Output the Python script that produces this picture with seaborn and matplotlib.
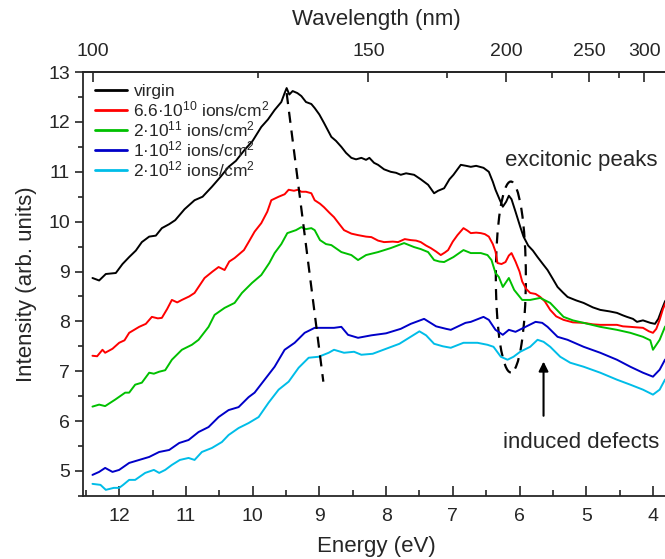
import numpy as np
import pandas as pd
import seaborn as sns
import matplotlib.pyplot as plt
from matplotlib.patches import Ellipse
from matplotlib.ticker import MultipleLocator, FixedLocator

# ---- data (energy in eV, intensity in arb. units) ----
e_virgin = [12.40, 12.30, 12.20, 12.05, 11.95, 11.85, 11.75, 11.66, 11.55, 11.45,
            11.36, 11.25, 11.16, 11.02, 10.87, 10.75, 10.61, 10.48, 10.36, 10.25,
            10.12, 10.00, 9.87, 9.77, 9.67, 9.57, 9.52, 9.49, 9.45, 9.40,
            9.33, 9.27, 9.20, 9.12, 9.07, 9.00, 8.93, 8.82, 8.75, 8.67,
            8.60, 8.52, 8.45, 8.37, 8.30, 8.25, 8.18, 8.12, 8.03, 7.93,
            7.85, 7.78, 7.70, 7.58, 7.48, 7.37, 7.28, 7.22, 7.13, 7.05,
            6.99, 6.93, 6.88, 6.80, 6.73, 6.65, 6.54, 6.46, 6.40, 6.36,
            6.30, 6.25, 6.20, 6.16, 6.12, 6.06, 5.99, 5.94, 5.87, 5.80,
            5.73, 5.65, 5.58, 5.50, 5.43, 5.35, 5.28, 5.15, 5.04, 4.90,
            4.79, 4.65, 4.54, 4.45, 4.39, 4.30, 4.24, 4.15, 4.04, 3.97,
            3.92, 3.87, 3.82, 3.78]
i_virgin = [8.87, 8.82, 8.95, 8.97, 9.15, 9.29, 9.42, 9.59, 9.70, 9.72,
            9.87, 9.95, 10.03, 10.25, 10.43, 10.50, 10.70, 10.90, 11.10, 11.22,
            11.44, 11.62, 11.90, 12.05, 12.24, 12.40, 12.58, 12.68, 12.55, 12.62,
            12.58, 12.52, 12.40, 12.36, 12.28, 12.15, 11.98, 11.70, 11.62, 11.50,
            11.38, 11.28, 11.25, 11.28, 11.24, 11.28, 11.18, 11.14, 11.05, 11.00,
            10.98, 10.94, 10.97, 10.94, 10.85, 10.74, 10.57, 10.62, 10.67, 10.85,
            10.94, 11.05, 11.14, 11.12, 11.10, 11.12, 11.08, 11.00, 10.80, 10.64,
            10.45, 10.30, 10.40, 10.52, 10.45, 10.20, 9.90, 9.70, 9.52, 9.42,
            9.29, 9.15, 9.03, 8.85, 8.69, 8.58, 8.49, 8.42, 8.37, 8.28,
            8.23, 8.20, 8.17, 8.12, 8.09, 8.05, 7.99, 8.02, 7.97, 7.95,
            8.05, 8.23, 8.40, 8.48]

e_66e10 = [12.40, 12.33, 12.25, 12.21, 12.10, 12.00, 11.92, 11.85, 11.70, 11.60,
           11.51, 11.42, 11.36, 11.28, 11.21, 11.13, 11.06, 10.95, 10.87, 10.78,
           10.72, 10.60, 10.51, 10.42, 10.35, 10.27, 10.13, 10.06, 9.97, 9.87,
           9.78, 9.72, 9.61, 9.52, 9.46, 9.38, 9.32, 9.27, 9.20, 9.12,
           9.07, 8.99, 8.93, 8.85, 8.78, 8.70, 8.63, 8.52, 8.42, 8.30,
           8.22, 8.12, 8.03, 7.90, 7.82, 7.72, 7.63, 7.55, 7.48, 7.40,
           7.33, 7.25, 7.18, 7.12, 7.07, 7.00, 6.93, 6.84, 6.78, 6.73,
           6.65, 6.58, 6.52, 6.46, 6.40, 6.36, 6.33, 6.27, 6.21, 6.16,
           6.12, 6.06, 6.00, 5.96, 5.90, 5.84, 5.76, 5.69, 5.62, 5.54,
           5.45, 5.34, 5.20, 5.04, 4.90, 4.79, 4.65, 4.54, 4.45, 4.34,
           4.25, 4.15, 4.06, 4.00, 3.95, 3.90, 3.85, 3.80, 3.76]
i_66e10 = [7.31, 7.30, 7.43, 7.37, 7.45, 7.57, 7.62, 7.77, 7.89, 7.95,
           8.09, 8.06, 8.07, 8.25, 8.43, 8.38, 8.43, 8.50, 8.57, 8.75,
           8.87, 9.00, 9.09, 9.03, 9.20, 9.27, 9.43, 9.59, 9.80, 9.97,
           10.20, 10.43, 10.50, 10.55, 10.64, 10.62, 10.64, 10.60, 10.60, 10.57,
           10.43, 10.36, 10.29, 10.18, 10.09, 9.95, 9.83, 9.76, 9.73, 9.70,
           9.69, 9.62, 9.59, 9.60, 9.59, 9.65, 9.63, 9.62, 9.59, 9.52,
           9.47, 9.40, 9.33, 9.38, 9.43, 9.60, 9.73, 9.87, 9.82, 9.77,
           9.78, 9.77, 9.75, 9.70, 9.55, 9.40, 9.17, 9.15, 9.19, 9.32,
           9.37, 9.20, 9.00, 8.80, 8.65, 8.57, 8.55, 8.49, 8.40, 8.23,
           8.10, 8.03, 7.98, 7.97, 7.94, 7.93, 7.93, 7.93, 7.90, 7.89,
           7.88, 7.87, 7.80, 7.77, 7.85, 8.03, 8.25, 8.40, 8.48]

e_2e11 = [12.40, 12.30, 12.21, 12.06, 11.91, 11.85, 11.76, 11.66, 11.55, 11.48,
          11.40, 11.31, 11.21, 11.06, 10.91, 10.81, 10.66, 10.57, 10.42, 10.27,
          10.16, 10.01, 9.87, 9.75, 9.67, 9.57, 9.48, 9.35, 9.27, 9.20,
          9.12, 9.07, 8.99, 8.90, 8.82, 8.67, 8.52, 8.42, 8.30, 8.12,
          7.93, 7.73, 7.58, 7.48, 7.37, 7.28, 7.20, 7.13, 6.99, 6.84,
          6.73, 6.58, 6.48, 6.42, 6.36, 6.31, 6.25, 6.16, 6.08, 5.96,
          5.84, 5.69, 5.54, 5.34, 5.20, 5.04, 4.79, 4.54, 4.34, 4.15,
          4.04, 4.00, 3.94, 3.90, 3.82, 3.76]
i_2e11 = [6.29, 6.33, 6.30, 6.43, 6.57, 6.57, 6.73, 6.77, 6.97, 6.95,
          6.99, 7.02, 7.23, 7.43, 7.53, 7.63, 7.89, 8.13, 8.27, 8.37,
          8.57, 8.77, 8.93, 9.17, 9.37, 9.55, 9.77, 9.83, 9.89, 9.85,
          9.87, 9.83, 9.63, 9.55, 9.53, 9.39, 9.33, 9.23, 9.33, 9.39,
          9.47, 9.57, 9.49, 9.45, 9.39, 9.23, 9.20, 9.19, 9.29, 9.43,
          9.37, 9.37, 9.33, 9.23, 8.97, 8.89, 8.69, 8.87, 8.63, 8.43,
          8.43, 8.47, 8.37, 8.09, 8.02, 7.97, 7.89, 7.83, 7.77, 7.69,
          7.62, 7.43, 7.55, 7.63, 7.89, 7.98]

e_1e12 = [12.40, 12.30, 12.21, 12.10, 12.00, 11.85, 11.70, 11.55, 11.40, 11.25,
          11.10, 10.96, 10.81, 10.66, 10.51, 10.36, 10.21, 10.06, 9.97, 9.82,
          9.67, 9.52, 9.37, 9.22, 9.07, 8.93, 8.78, 8.67, 8.57, 8.42,
          8.22, 8.00, 7.78, 7.63, 7.43, 7.25, 7.10, 7.03, 6.81, 6.73,
          6.54, 6.46, 6.36, 6.25, 6.16, 6.06, 5.91, 5.76, 5.66, 5.58,
          5.43, 5.28, 5.04, 4.79, 4.54, 4.34, 4.15, 4.00, 3.90, 3.82, 3.76]
i_1e12 = [4.92, 4.98, 5.06, 4.98, 5.02, 5.16, 5.22, 5.28, 5.38, 5.42,
          5.56, 5.62, 5.78, 5.88, 6.08, 6.22, 6.28, 6.48, 6.57, 6.83,
          7.09, 7.43, 7.57, 7.77, 7.87, 7.87, 7.87, 7.89, 7.73, 7.67,
          7.72, 7.76, 7.85, 7.95, 8.05, 7.90, 7.85, 7.83, 7.97, 7.99,
          8.09, 8.03, 7.83, 7.73, 7.83, 7.79, 7.89, 7.99, 7.97, 7.89,
          7.69, 7.63, 7.49, 7.37, 7.23, 7.09, 6.97, 6.89, 7.03, 7.23, 7.30]

e_2e12 = [12.40, 12.28, 12.20, 12.08, 12.00, 11.94, 11.85, 11.76, 11.61, 11.48,
          11.40, 11.31, 11.21, 11.09, 10.96, 10.87, 10.76, 10.61, 10.46, 10.36,
          10.21, 10.06, 9.91, 9.76, 9.61, 9.46, 9.31, 9.16, 9.01, 8.86,
          8.78, 8.63, 8.48, 8.37, 8.20, 8.00, 7.80, 7.62, 7.50, 7.40,
          7.28, 7.15, 7.03, 6.84, 6.63, 6.48, 6.39, 6.28, 6.18, 6.09,
          5.99, 5.84, 5.73, 5.64, 5.54, 5.39, 5.24, 5.04, 4.79, 4.54,
          4.34, 4.15, 4.00, 3.90, 3.82, 3.76]
i_2e12 = [4.74, 4.72, 4.62, 4.66, 4.66, 4.72, 4.82, 4.82, 4.96, 5.02,
          4.96, 5.02, 5.12, 5.22, 5.26, 5.22, 5.38, 5.46, 5.58, 5.72,
          5.86, 5.96, 6.08, 6.37, 6.63, 6.79, 7.07, 7.27, 7.29, 7.37,
          7.43, 7.37, 7.39, 7.33, 7.35, 7.45, 7.55, 7.70, 7.80, 7.72,
          7.55, 7.50, 7.47, 7.57, 7.57, 7.53, 7.49, 7.29, 7.23, 7.29,
          7.39, 7.49, 7.63, 7.59, 7.49, 7.29, 7.17, 7.09, 6.97, 6.83,
          6.73, 6.63, 6.53, 6.63, 6.83, 6.90]

labels = ['virgin',
          '6.6\u00b710$^{10}$ ions/cm$^2$',
          '2\u00b710$^{11}$ ions/cm$^2$',
          '1\u00b710$^{12}$ ions/cm$^2$',
          '2\u00b710$^{12}$ ions/cm$^2$']
colors = ['#000000', '#ff0000', '#00c000', '#0000c8', '#00bde8']

# shift of the absorption edge (dashed guide) and excitonic region
guide_e = [9.49, 8.94]
guide_i = [12.58, 6.79]

wl_major = [100, 150, 200, 250, 300]
wl_minor = [125, 175, 225, 275]

frames = []
for lab, e, i in zip(labels, [e_virgin, e_66e10, e_2e11, e_1e12, e_2e12],
                     [i_virgin, i_66e10, i_2e11, i_1e12, i_2e12]):
    frames.append(pd.DataFrame({'energy': e, 'intensity': i, 'sample': lab}))
df = pd.concat(frames, ignore_index=True)

sns.set_theme(style='ticks')
plt.rcParams['font.family'] = ['Liberation Sans', 'DejaVu Sans']
plt.rcParams['mathtext.fontset'] = 'custom'
plt.rcParams['mathtext.rm'] = 'Liberation Sans'
plt.rcParams['mathtext.it'] = 'Liberation Sans:italic'
plt.rcParams['mathtext.bf'] = 'Liberation Sans:bold'

fig = plt.figure(figsize=(6.65, 5.59), dpi=100)
ax = fig.add_axes([0.125, 0.113, 0.883, 0.758])

sns.lineplot(data=df, x='energy', y='intensity', hue='sample', palette=colors,
             hue_order=labels, estimator=None, sort=False, lw=1.4, ax=ax)

ax.plot(guide_e, guide_i, color='black', lw=1.6, ls=(0, (5, 3.5)))
ax.add_patch(Ellipse((6.13, 8.89), 0.45, 3.83, fill=False, ec='black',
                     lw=1.6, ls=(0, (5, 3.5))))

ax.annotate('', xy=(5.64, 7.25), xytext=(5.64, 6.05),
            arrowprops=dict(arrowstyle='-|>', color='black', lw=1.5,
                            mutation_scale=14))
ax.text(5.08, 11.22, 'excitonic peaks', fontsize=16, ha='center', va='center')
ax.text(5.08, 5.57, 'induced defects', fontsize=16, ha='center', va='center')

ax.set_xlim(12.54, 3.74)
ax.set_ylim(4.5, 13)
ax.xaxis.set_major_locator(MultipleLocator(1))
ax.xaxis.set_minor_locator(MultipleLocator(0.5))
ax.yaxis.set_major_locator(MultipleLocator(1))
ax.yaxis.set_minor_locator(MultipleLocator(0.5))
ax.tick_params(axis='x', which='both', direction='in', labelsize=14, pad=9)
ax.tick_params(axis='x', which='major', length=7, width=1.2)
ax.tick_params(axis='x', which='minor', length=4, width=1.2)
ax.tick_params(axis='y', which='both', direction='out', labelsize=14)
ax.tick_params(axis='y', which='major', length=6, width=1.2)
ax.tick_params(axis='y', which='minor', length=3.5, width=1.2)
for s in ax.spines.values():
    s.set_linewidth(1.3)
ax.set_xlabel('Energy (eV)', fontsize=16, labelpad=8)
ax.set_ylabel('Intensity (arb. units)', fontsize=16, labelpad=8)

def e2w(e):
    e = np.asarray(e, dtype=float)
    return 1239.84 / np.where(e == 0, 1e-9, e)

secax = ax.secondary_xaxis('top', functions=(e2w, e2w))
secax.xaxis.set_major_locator(FixedLocator(wl_major))
secax.xaxis.set_minor_locator(FixedLocator(wl_minor))
secax.tick_params(which='both', direction='in', labelsize=14, pad=9)
secax.tick_params(which='major', length=7, width=1.2)
secax.tick_params(which='minor', length=4, width=1.2)
secax.spines['top'].set_linewidth(1.3)
secax.set_xlabel('Wavelength (nm)', fontsize=16, labelpad=13)

leg = ax.legend(loc='upper left', frameon=False, fontsize=12.5,
                handlelength=1.8, handletextpad=0.4, labelspacing=0.0,
                borderaxespad=0.3, bbox_to_anchor=(0.0, 1.0))
for line in leg.get_lines():
    line.set_linewidth(2)

fig.savefig('out.png', dpi=100)
